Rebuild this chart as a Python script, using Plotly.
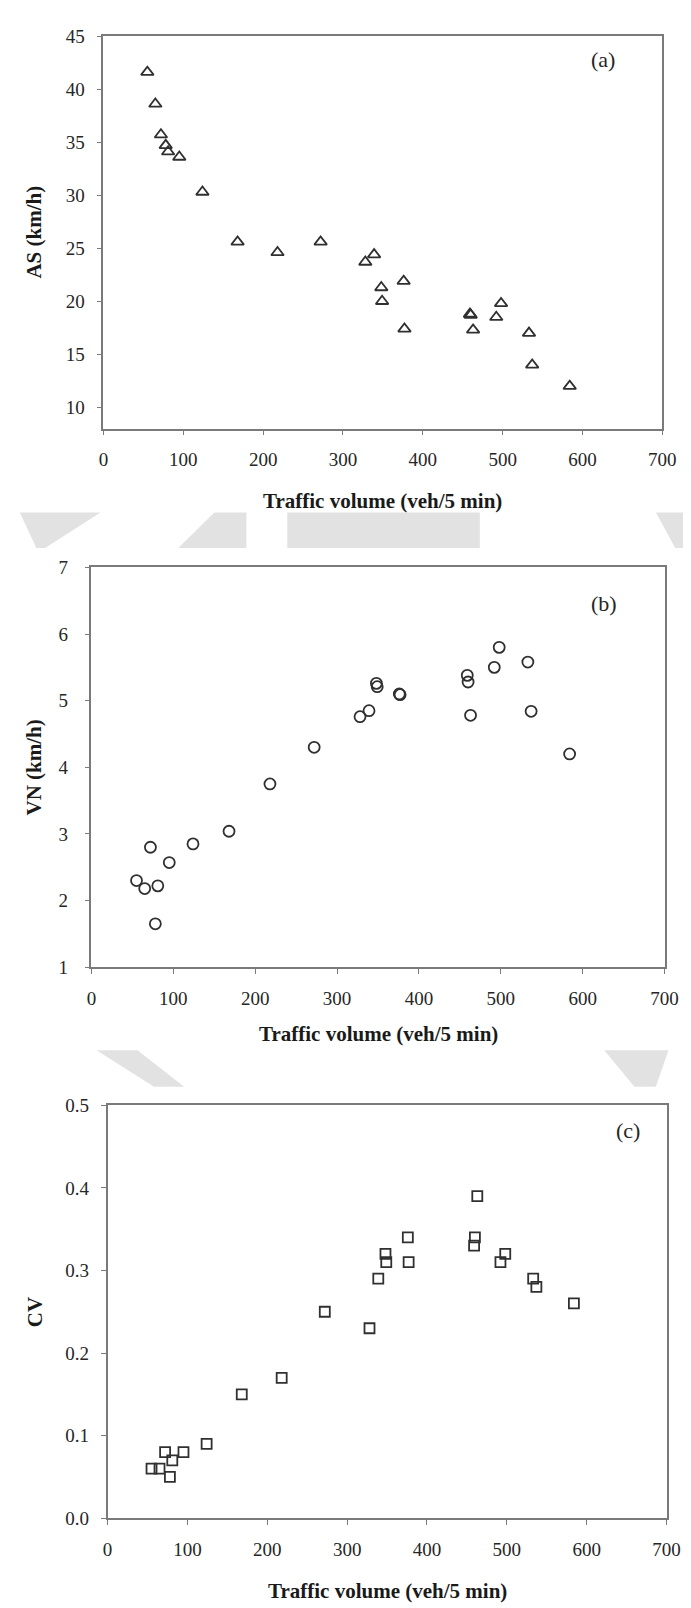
import plotly.graph_objects as go

# ---------------- data ----------------
traffic_volume = [55, 65, 72, 78, 81, 95, 124, 168, 218, 272, 328, 339, 348, 349,
                  376, 377, 459, 460, 463, 492, 498, 533, 537, 584]
avg_speed = [41.6, 38.6, 35.7, 34.7, 34.1, 33.6, 30.3, 25.6, 24.6, 25.6, 23.7, 24.4,
             21.3, 20.0, 21.9, 17.4, 18.8, 18.7, 17.3, 18.5, 19.8, 17.0, 14.0, 12.0]
vn_speed = [2.30, 2.18, 2.80, 1.65, 2.22, 2.57, 2.85, 3.04, 3.75, 4.30, 4.76, 4.85,
            5.26, 5.21, 5.10, 5.09, 5.38, 5.28, 4.78, 5.50, 5.80, 5.58, 4.84, 4.20]
cv_speed = [0.06, 0.06, 0.08, 0.05, 0.07, 0.08, 0.09, 0.15, 0.17, 0.25, 0.23, 0.29,
            0.32, 0.31, 0.34, 0.31, 0.33, 0.34, 0.39, 0.31, 0.32, 0.29, 0.28, 0.26]

x_ticks = [0, 100, 200, 300, 400, 500, 600, 700]
as_ticks = [10, 15, 20, 25, 30, 35, 40, 45]
vn_ticks = [1, 2, 3, 4, 5, 6, 7]
cv_ticks = [0.0, 0.1, 0.2, 0.3, 0.4, 0.5]

x_title = "Traffic volume (veh/5 min)"
y_titles = ["AS (km/h)", "VN (km/h)", "CV"]
panel_labels = ["(a)", "(b)", "(c)"]

# ---------------- layout helpers (pixel -> paper) ----------------
W, H = 691, 1608
def px(x):
    return x / W
def py(y):
    return 1 - y / H

FONT = "Liberation Serif, Times New Roman, serif"
TXT = "#262626"
AXC = "#7a7a7a"
MC = "#303030"

# plot boxes: (left, right, top, bottom) in pixels
boxes = [
    (93, 667.7, 18.3, 416),
    (80.7, 670, 556.7, 961.7),
    (97.3, 672, 1101.7, 1520),
]

fig = go.Figure()

series = [avg_speed, vn_speed, cv_speed]
symbols = ["triangle-up-open", "circle-open", "square-open"]
sizes = [11, 11, 10]
for i, (vals, sym, sz) in enumerate(zip(series, symbols, sizes)):
    ax = "" if i == 0 else str(i + 1)
    fig.add_trace(go.Scatter(
        x=traffic_volume, y=vals, mode="markers",
        marker=dict(symbol=sym, size=sz, color=MC, line=dict(color=MC, width=1.8)),
        xaxis="x" + ax, yaxis="y" + ax, showlegend=False, hoverinfo="x+y"))

y_cfg = [
    dict(range=[8, 45], tickvals=as_ticks, tickformat="d"),
    dict(range=[1, 7], tickvals=vn_ticks, tickformat="d"),
    dict(range=[0, 0.5], tickvals=cv_ticks, tickformat=".1f"),
]

layout = dict(
    width=W, height=H,
    margin=dict(l=0, r=0, t=0, b=0),
    paper_bgcolor="white", plot_bgcolor="rgba(0,0,0,0)",
    font=dict(family=FONT, size=19, color=TXT),
    showlegend=False,
)

common_axis = dict(
    showline=True, linecolor=AXC, linewidth=1.6, mirror=True,
    ticks="outside", ticklen=5, tickwidth=1.2, tickcolor=AXC,
    showgrid=False, zeroline=False,
    tickfont=dict(family=FONT, size=19, color=TXT),
)

for i, (l, r, t, b) in enumerate(boxes):
    ax = "" if i == 0 else str(i + 1)
    layout["xaxis" + ax] = dict(
        common_axis, domain=[px(l), px(r)], range=[0, 700], tickvals=x_ticks,
        anchor="y" + ax, ticklabelstandoff=8)
    layout["yaxis" + ax] = dict(
        common_axis, domain=[py(b), py(t)], anchor="x" + ax,
        ticklabelstandoff=8 if i != 1 else 13, **y_cfg[i])

fig.update_layout(**layout)

# axis titles and panel labels
xtitle_y = [489, 1029, 1594]
ytitle_y = [217, 759, 1311]
label_pos = [(607, 42), (608, 593), (632, 1127)]
for i in range(3):
    l, r, t, b = boxes[i]
    fig.add_annotation(x=px((l + r) / 2), y=py(xtitle_y[i]), xref="paper", yref="paper",
                       text="<b>" + x_title + "</b>", showarrow=False,
                       font=dict(family=FONT, size=21, color="#1a1a1a"),
                       xanchor="center", yanchor="middle")
    fig.add_annotation(x=px(22), y=py(ytitle_y[i]), xref="paper", yref="paper",
                       text="<b>" + y_titles[i] + "</b>", showarrow=False, textangle=-90,
                       font=dict(family=FONT, size=21, color="#1a1a1a"),
                       xanchor="center", yanchor="middle")
    fig.add_annotation(x=px(label_pos[i][0]), y=py(label_pos[i][1]), xref="paper", yref="paper",
                       text=panel_labels[i], showarrow=False,
                       font=dict(family=FONT, size=22, color=TXT),
                       xanchor="center", yanchor="middle")

# faint watermark bands between the panels
wm = [
    [(7, 501), (90, 501), (33, 537), (24, 537)],
    [(207, 501), (240, 501), (240, 537), (170, 537)],
    [(282, 501), (480, 501), (480, 537), (282, 537)],
    [(661, 501), (691, 501), (691, 537), (681, 537)],
    [(86, 1046), (128, 1046), (176, 1083), (145, 1083)],
    [(608, 1046), (674, 1046), (661, 1083), (639, 1083)],
]
for poly in wm:
    path = "M " + " L ".join(f"{px(x):.5f},{py(y):.5f}" for x, y in poly) + " Z"
    fig.add_shape(type="path", path=path, xref="paper", yref="paper",
                  fillcolor="#e2e2e2", line=dict(width=0), layer="below")

fig.write_html("out.html")
